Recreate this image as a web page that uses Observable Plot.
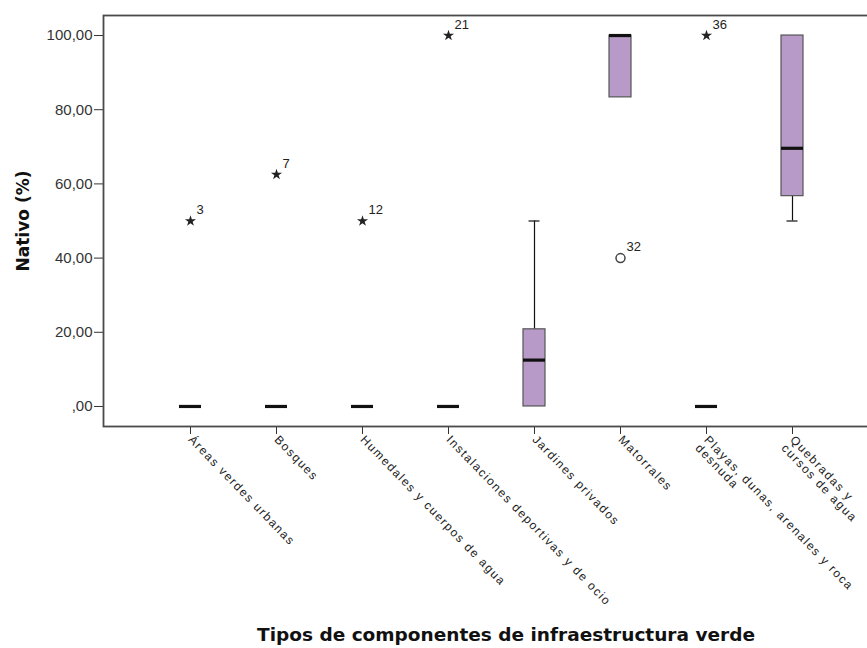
<!DOCTYPE html>
<html>
<head>
<meta charset="utf-8">
<script src="https://cdn.jsdelivr.net/npm/d3@7"></script>
<script src="https://cdn.jsdelivr.net/npm/@observablehq/plot@0.6"></script>
<style>
  html, body { margin: 0; padding: 0; background: #fff; overflow: hidden; }
  #chart svg g[aria-label="x-axis tick label"] text { letter-spacing: 1.5px; }
</style>
</head>
<body>
<div id="chart"></div>
<script>
// ---- data ----
const categories = [
  "Áreas verdes urbanas",
  "Bosques",
  "Humedales y cuerpos de agua",
  "Instalaciones deportivas y de ocio",
  "Jardines privados",
  "Matorrales",
  "Playas, dunas, arenales y roca\ndesnuda",
  "Quebradas y\ncursos de agua"
];
const whiskerLow  = [0, 0, 0, 0, 0,     83.33, 0, 50];
const q1          = [0, 0, 0, 0, 0,     83.33, 0, 56.7];
const median      = [0, 0, 0, 0, 12.5,  100,   0, 69.6];
const q3          = [0, 0, 0, 0, 20.8,  100,   0, 100];
const whiskerHigh = [0, 0, 0, 0, 50,    100,   0, 100];

const outlierCategory = [
  "Áreas verdes urbanas",
  "Bosques",
  "Humedales y cuerpos de agua",
  "Instalaciones deportivas y de ocio",
  "Matorrales",
  "Playas, dunas, arenales y roca\ndesnuda"
];
const outlierValue = [50, 62.5, 50, 100, 40, 100];
const outlierCase  = ["3", "7", "12", "21", "32", "36"];
const outlierKind  = ["extreme", "extreme", "extreme", "extreme", "outlier", "extreme"];

const yTicks = [0, 20, 40, 60, 80, 100];
const yTitle = "Nativo (%)";
const xTitle = "Tipos de componentes de infraestructura verde";

// ---- tables ----
const boxes = categories.map((c, i) => ({
  cat: c, lo: whiskerLow[i], q1: q1[i], med: median[i], q3: q3[i], hi: whiskerHigh[i]
}));
const outliers = outlierCategory.map((c, i) => ({
  cat: c, v: outlierValue[i], id: outlierCase[i], kind: outlierKind[i]
}));
const stars = outliers.filter(d => d.kind === "extreme");
const circles = outliers.filter(d => d.kind === "outlier");
const realBoxes = boxes.filter(d => d.q3 > d.q1);
const multiLine = categories.filter(c => c.includes("\n"));

const fmt = d => d === 0 ? ",00" : d.toFixed(2).replace(".", ",");
const rot = 46;
const tickLen = 8, tickPad = 3;
const xAxisOpts = { tickRotate: rot, fontSize: 12, stroke: "#333", fill: "#1a1a1a", label: null };

const chart = Plot.plot({
  width: 867,
  height: 648,
  marginLeft: 103,
  marginRight: -11,
  marginTop: 15,
  marginBottom: 222,
  style: { fontFamily: "'Liberation Sans', Arial, sans-serif", color: "#333", background: "#fff" },
  x: { domain: categories, type: "band", paddingInner: 0.747, paddingOuter: 0.828, align: 0.5 },
  y: { domain: [-5.4, 105.4] },
  marks: [
    // whiskers
    Plot.ruleX(boxes.filter(d => d.hi > d.q3), { x: "cat", y1: "q3", y2: "hi", stroke: "#111", strokeWidth: 1.2 }),
    Plot.ruleX(boxes.filter(d => d.lo < d.q1), { x: "cat", y1: "lo", y2: "q1", stroke: "#111", strokeWidth: 1.2 }),
    Plot.tickY(boxes.filter(d => d.hi > d.q3), { x: "cat", y: "hi", stroke: "#111", strokeWidth: 1.2, insetLeft: 5.5, insetRight: 5.5 }),
    Plot.tickY(boxes.filter(d => d.lo < d.q1), { x: "cat", y: "lo", stroke: "#111", strokeWidth: 1.2, insetLeft: 5.5, insetRight: 5.5 }),
    // boxes
    Plot.barY(realBoxes, { x: "cat", y1: "q1", y2: "q3", fill: "#b79ac8", stroke: "#555", strokeWidth: 1.2 }),
    // medians
    Plot.tickY(boxes, { x: "cat", y: "med", stroke: "#111", strokeWidth: 3.2 }),
    // outliers
    Plot.dot(stars, { x: "cat", y: "v", symbol: "star", r: 3.5, fill: "#222", stroke: "none" }),
    Plot.dot(circles, { x: "cat", y: "v", symbol: "circle", r: 4.5, fill: "#fff", stroke: "#444", strokeWidth: 1.5 }),
    Plot.text(outliers, { x: "cat", y: "v", text: "id", dx: 6, dy: -11, textAnchor: "start", fontSize: 13, fill: "#222" }),
    // axes
    Plot.axisY({ ticks: yTicks, tickFormat: fmt, tickSize: 9, tickPadding: 2, fontSize: 15, stroke: "#333", fill: "#333", label: null }),
    Plot.axisX({ ...xAxisOpts, ticks: categories, tickSize: tickLen, tickPadding: tickPad,
                 tickFormat: c => c.includes("\n") ? null : c }),
    Plot.axisX({ ...xAxisOpts, ticks: multiLine, tickSize: 0, tickPadding: tickLen + tickPad,
                 dx: -6.5 * Math.sin(rot * Math.PI / 180), dy: 6.5 * Math.cos(rot * Math.PI / 180) }),
    Plot.frame({ stroke: "#4a4a4a", strokeWidth: 1.8 }),
    // titles
    Plot.text([yTitle], { frameAnchor: "left", text: d => d, rotate: -90, textAnchor: "middle", dx: -80, fontSize: 17, fontWeight: "bold", fontFamily: "'DejaVu Sans', sans-serif", fill: "#111" }),
    Plot.text([xTitle], { frameAnchor: "bottom", text: d => d, textAnchor: "middle", lineAnchor: "middle", dx: 15, dy: 209, fontSize: 18.5, fontWeight: "bold", fontFamily: "'DejaVu Sans', sans-serif", fill: "#111" })
  ]
});
document.getElementById("chart").append(chart);
</script>
</body>
</html>
